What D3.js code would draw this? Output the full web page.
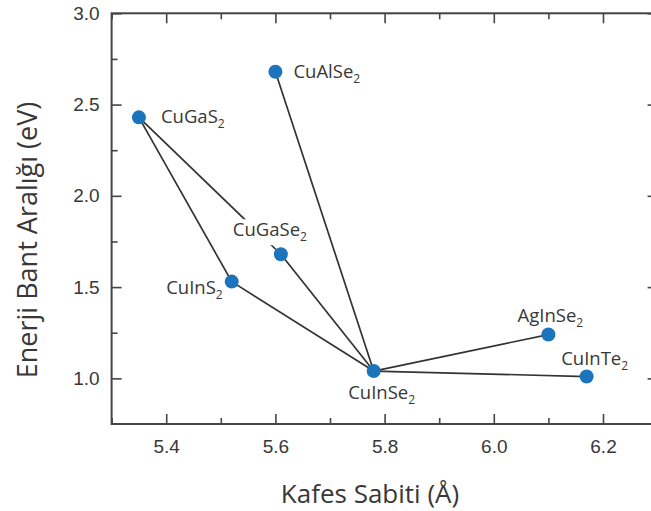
<!DOCTYPE html>
<html>
<head>
<meta charset="utf-8">
<script src="https://cdn.jsdelivr.net/npm/d3@7"></script>
<style>
  body { margin: 0; background: #fff; }
  svg { display: block; font-family: "Open Sans", sans-serif; }
</style>
</head>
<body>
<div id="chart"></div>
<script>
// compounds: lattice constant (Å) vs band gap (eV)
var compounds = ["CuGaS2", "CuAlSe2", "CuGaSe2", "CuInS2", "CuInSe2", "AgInSe2", "CuInTe2"];
var latticeA  = [5.35, 5.60, 5.61, 5.52, 5.78, 6.10, 6.17];
var bandGap   = [2.43, 2.68, 1.68, 1.53, 1.04, 1.24, 1.01];

// which compounds are joined by a line
var links = [
    ["CuGaS2", "CuInS2"],
    ["CuGaS2", "CuGaSe2"],
    ["CuInS2", "CuInSe2"],
    ["CuGaSe2", "CuInSe2"],
    ["CuAlSe2", "CuInSe2"],
    ["CuInSe2", "AgInSe2"],
    ["CuInSe2", "CuInTe2"]
];

var xTicks = [5.4, 5.6, 5.8, 6.0, 6.2];
var xMinor = [5.3, 5.5, 5.7, 5.9, 6.1, 6.3];
var yTicks = [1.0, 1.5, 2.0, 2.5, 3.0];
var yMinor = [1.25, 1.75, 2.25, 2.75];

var xTitle = "Kafes Sabiti (Å)";
var yTitle = "Enerji Bant Aralığı (eV)";

// label placement relative to each point (layout only)
var labelPos = {
    CuGaS2:  {dx: 22,  dy: 6,   anchor: "start"},
    CuAlSe2: {dx: 18,  dy: 6,   anchor: "start"},
    CuGaSe2: {dx: -48, dy: -18, anchor: "start"},
    CuInS2:  {dx: -9,  dy: 12,  anchor: "end"},
    CuInSe2: {dx: 8,   dy: 28,  anchor: "middle"},
    AgInSe2: {dx: 2,   dy: -13, anchor: "middle"},
    CuInTe2: {dx: 8,   dy: -12, anchor: "middle"}
};

var w = 651, h = 511;
var margin = {top: 13.3, left: 111.6};
var plotW = 546, plotH = 410.7;

var points = compounds.map(function(c, i) {
    return {name: c, x: latticeA[i], y: bandGap[i]};
});
var byName = {};
points.forEach(function(p) { byName[p.name] = p; });

var svg = d3.select("#chart").append("svg")
    .attr("width", w)
    .attr("height", h);

var xScale = d3.scaleLinear().domain([5.3, 6.3]).range([0, plotW]);
var yScale = d3.scaleLinear().domain([0.75, 3.0]).range([plotH, 0]);

var g = svg.append("g")
    .attr("transform", "translate(" + margin.left + "," + margin.top + ")");

var axisColor = "#454545";
var textColor = "#383838";

// frame
g.append("rect")
    .attr("width", plotW)
    .attr("height", plotH)
    .attr("fill", "none")
    .attr("stroke", axisColor)
    .attr("stroke-width", 2);

// axes with inward ticks
function styleAxis(sel) {
    sel.select(".domain").remove();
    sel.selectAll(".tick line").attr("stroke", axisColor).attr("stroke-width", 1.6);
    sel.selectAll(".tick text")
        .attr("fill", textColor)
        .attr("font-size", "19px");
}

g.append("g")
    .attr("transform", "translate(0," + plotH + ")")
    .call(d3.axisBottom(xScale).tickValues(xTicks).tickSize(-10).tickPadding(16).tickFormat(d3.format(".1f")))
    .call(styleAxis);
g.append("g")
    .attr("transform", "translate(0," + plotH + ")")
    .call(d3.axisBottom(xScale).tickValues(xMinor).tickSize(-6).tickFormat(""))
    .call(styleAxis);
g.append("g")
    .call(d3.axisTop(xScale).tickValues(xTicks).tickSize(-10).tickFormat(""))
    .call(styleAxis);
g.append("g")
    .call(d3.axisTop(xScale).tickValues(xMinor).tickSize(-6).tickFormat(""))
    .call(styleAxis);

g.append("g")
    .call(d3.axisLeft(yScale).tickValues(yTicks).tickSize(-10).tickPadding(12).tickFormat(d3.format(".1f")))
    .call(styleAxis);
g.append("g")
    .call(d3.axisLeft(yScale).tickValues(yMinor).tickSize(-6).tickFormat(""))
    .call(styleAxis);
g.append("g")
    .attr("transform", "translate(" + plotW + ",0)")
    .call(d3.axisRight(yScale).tickValues(yTicks).tickSize(-10).tickFormat(""))
    .call(styleAxis);
g.append("g")
    .attr("transform", "translate(" + plotW + ",0)")
    .call(d3.axisRight(yScale).tickValues(yMinor).tickSize(-6).tickFormat(""))
    .call(styleAxis);

// connecting lines
g.append("g")
    .selectAll("line")
    .data(links)
    .enter()
    .append("line")
    .attr("x1", function(d) { return xScale(byName[d[0]].x); })
    .attr("y1", function(d) { return yScale(byName[d[0]].y); })
    .attr("x2", function(d) { return xScale(byName[d[1]].x); })
    .attr("y2", function(d) { return yScale(byName[d[1]].y); })
    .attr("stroke", "#333")
    .attr("stroke-width", 1.7);

// labels with a white box behind (breaks the line under CuGaSe2)
var labels = g.append("g")
    .selectAll("g")
    .data(points)
    .enter()
    .append("g");

labels.each(function(d) {
    var lp = labelPos[d.name];
    var t = d3.select(this).append("text")
        .attr("x", xScale(d.x) + lp.dx)
        .attr("y", yScale(d.y) + lp.dy)
        .attr("text-anchor", lp.anchor)
        .attr("fill", textColor)
        .attr("font-size", "18.5px");
    t.append("tspan").text(d.name.slice(0, -1));
    t.append("tspan")
        .attr("font-size", "12px")
        .attr("dy", 5)
        .text(d.name.slice(-1));
    var bb = t.node().getBBox();
    d3.select(this).insert("rect", "text")
        .attr("x", bb.x - 3)
        .attr("y", bb.y + 3)
        .attr("width", bb.width + 6)
        .attr("height", bb.height - 3)
        .attr("fill", "#fff");
});

// points
g.append("g")
    .selectAll("circle")
    .data(points)
    .enter()
    .append("circle")
    .attr("cx", function(d) { return xScale(d.x); })
    .attr("cy", function(d) { return yScale(d.y); })
    .attr("r", 7)
    .attr("fill", "#1c74bd");

// axis titles
svg.append("text")
    .attr("x", 370)
    .attr("y", 503)
    .attr("text-anchor", "middle")
    .attr("fill", textColor)
    .attr("font-size", "26px")
    .text(xTitle);

svg.append("text")
    .attr("transform", "translate(37,240)rotate(-90)")
    .attr("text-anchor", "middle")
    .attr("fill", textColor)
    .attr("font-size", "27px")
    .text(yTitle);
</script>
</body>
</html>
